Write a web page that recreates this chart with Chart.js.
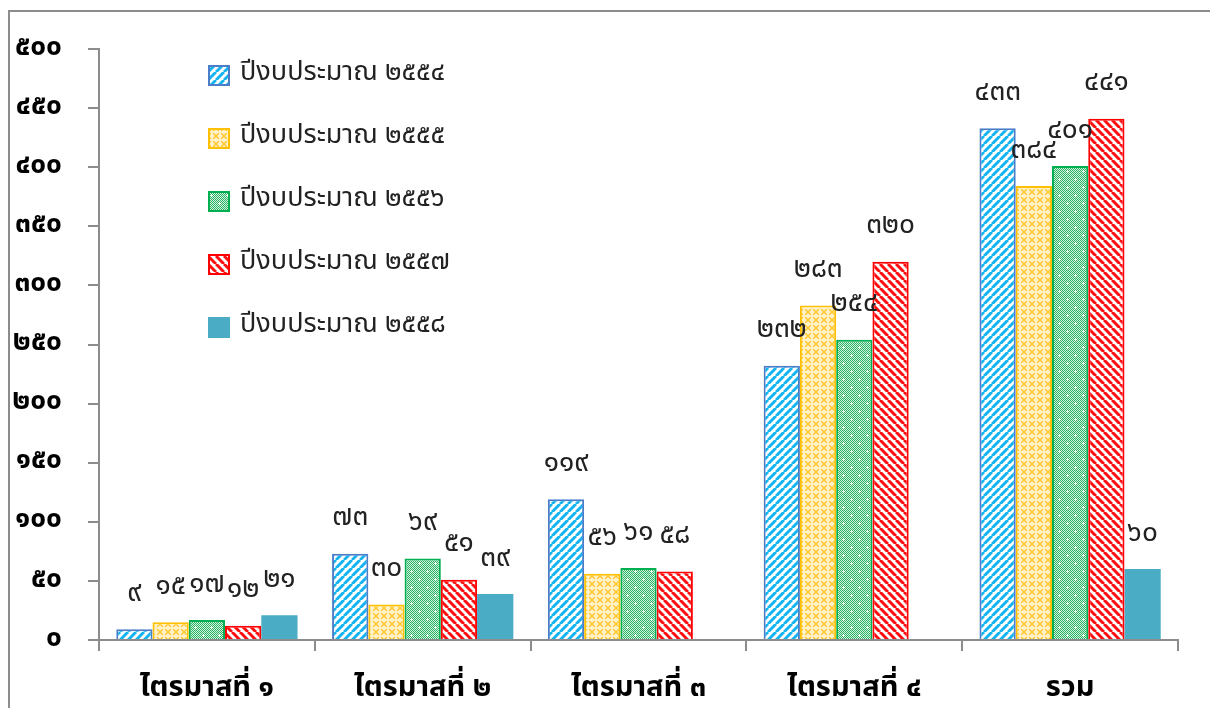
<!DOCTYPE html>
<html><head><meta charset="utf-8">
<script src="https://cdn.jsdelivr.net/npm/chart.js@4.4.0/dist/chart.umd.min.js"></script>
<style>html,body{margin:0;padding:0;background:#fff}canvas{display:block}</style>
</head><body><canvas id="c" width="1210" height="708"></canvas>
<script>
const categories = ['ไตรมาสที่ ๑', 'ไตรมาสที่ ๒', 'ไตรมาสที่ ๓', 'ไตรมาสที่ ๔', 'รวม'];
const seriesNames = ['ปีงบประมาณ ๒๕๕๔', 'ปีงบประมาณ ๒๕๕๕', 'ปีงบประมาณ ๒๕๕๖', 'ปีงบประมาณ ๒๕๕๗', 'ปีงบประมาณ ๒๕๕๘'];
const fy2554 = [9, 73, 119, 232, 433];
const fy2555 = [15, 30, 56, 283, 384];
const fy2556 = [17, 69, 61, 254, 401];
const fy2557 = [12, 51, 58, 320, 441];
const fy2558 = [21, 39, null, null, 60];
const yTickMin = 0, yTickMax = 500, yTickStep = 50;

const FONT = "'Noto Sans Thai', Tahoma, Loma, Garuda, 'Noto Sans', sans-serif";
const thaiDigits = ['๐','๑','๒','๓','๔','๕','๖','๗','๘','๙'];
const toThai = v => String(v).replace(/[0-9]/g, d => thaiDigits[+d]);

const mainCtx = document.getElementById('c').getContext('2d');
function makeTile(size, draw) {
  const c = document.createElement('canvas');
  c.width = c.height = size;
  const g = c.getContext('2d');
  draw(g, size);
  return mainCtx.createPattern(c, 'repeat');
}
function stripes(color, dir, size, lw) {
  return makeTile(size, (g, s) => {
    g.fillStyle = '#fff'; g.fillRect(0, 0, s, s);
    g.strokeStyle = color; g.lineWidth = lw;
    for (let k = -s; k <= s; k += s) {
      g.beginPath();
      if (dir > 0) { g.moveTo(k, s); g.lineTo(k + s, 0); }
      else { g.moveTo(k, 0); g.lineTo(k + s, s); }
      g.stroke();
    }
  });
}
const patBlue = stripes('#14B4F0', 1, 8, 3.0);
const patRed = stripes('#FF1010', -1, 8, 3.0);
const patYellow = makeTile(8, (g, s) => {
  g.fillStyle = '#FFF1C4'; g.fillRect(0, 0, s, s);
  g.strokeStyle = '#FFC82E'; g.lineWidth = 1.4;
  for (let k = -s; k <= s; k += s) {
    g.beginPath(); g.moveTo(k, s); g.lineTo(k + s, 0); g.stroke();
    g.beginPath(); g.moveTo(k, 0); g.lineTo(k + s, s); g.stroke();
  }
  g.fillStyle = '#fff';
  g.fillRect(3.5, 1.5, 1, 5); g.fillRect(1.5, 3.5, 5, 1);
});
const patGreen = makeTile(16, (g, s) => {
  for (let y = 0; y < s; y++) for (let x = 0; x < s; x++) {
    g.fillStyle = ((x + y) % 2 === 0) ? '#2DB466' : '#CFF0DC';
    g.fillRect(x, y, 1, 1);
  }
  g.fillStyle = '#fff';
  g.fillRect(3, 2, 1, 3); g.fillRect(2, 3, 3, 1);
  g.fillRect(11, 10, 1, 3); g.fillRect(10, 11, 3, 1);
});

const fills = [patBlue, patYellow, patGreen, patRed, '#4BACC6'];
const borders = ['#4A7EC8', '#FFC000', '#00B050', '#FF0000', '#4BACC6'];
const borderWidths = [2, 2, 2, 2, 0];
const seriesData = [fy2554, fy2555, fy2556, fy2557, fy2558];

const framePlugin = {
  id: 'frame',
  beforeDraw(chart) {
    const ctx = chart.ctx;
    ctx.save();
    ctx.fillStyle = '#fff';
    ctx.fillRect(0, 0, chart.width, chart.height);
    ctx.strokeStyle = '#8c8c8c'; ctx.lineWidth = 2;
    ctx.beginPath();
    ctx.moveTo(9, chart.height); ctx.lineTo(9, 11); ctx.lineTo(chart.width, 11);
    ctx.stroke();
    ctx.restore();
  }
};
const labelPlugin = {
  id: 'vlabels',
  afterDatasetsDraw(chart) {
    const ctx = chart.ctx;
    ctx.save();
    ctx.font = "28px " + FONT;
    ctx.fillStyle = '#222';
    ctx.textAlign = 'center';
    ctx.textBaseline = 'middle';
    chart.data.datasets.forEach((ds, i) => {
      const meta = chart.getDatasetMeta(i);
      meta.data.forEach((el, j) => {
        const v = ds.data[j];
        if (v === null || v === undefined) return;
        ctx.fillText(toThai(v), el.x, el.y - 34);
      });
    });
    ctx.restore();
  }
};
const legendPlugin = {
  id: 'clegend',
  afterDraw(chart) {
    const ctx = chart.ctx;
    ctx.save();
    ctx.font = "27px " + FONT;
    ctx.textBaseline = 'middle';
    ctx.textAlign = 'left';
    chart.data.datasets.forEach((ds, i) => {
      const cy = 75 + i * 63;
      ctx.fillStyle = ds.backgroundColor;
      ctx.fillRect(208, cy - 10, 22, 21);
      if (ds.borderWidth > 0) {
        ctx.strokeStyle = ds.borderColor; ctx.lineWidth = 2;
        ctx.strokeRect(209, cy - 9, 20, 19);
      }
      ctx.fillStyle = '#222';
      ctx.fillText(ds.label, 240, cy);
    });
    ctx.restore();
  }
};

new Chart(document.getElementById('c'), {
  type: 'bar',
  data: {
    labels: categories,
    datasets: seriesData.map((d, i) => ({
      label: seriesNames[i],
      data: d,
      backgroundColor: fills[i],
      borderColor: borders[i],
      borderWidth: borderWidths[i],
      categoryPercentage: 0.84,
      barPercentage: 1.0
    }))
  },
  options: {
    responsive: false,
    animation: false,
    devicePixelRatio: 1,
    layout: { padding: { left: 0, right: 32, top: 49, bottom: 0 } },
    plugins: { legend: { display: false }, tooltip: { enabled: false } },
    scales: {
      x: {
        grid: { display: true, drawOnChartArea: false, offset: true, tickLength: 11, color: '#8c8c8c', lineWidth: 2 },
        border: { display: true, color: '#8c8c8c', width: 2 },
        ticks: { color: '#000', font: { family: FONT, size: 29, weight: 'bold' }, padding: 22 },
        afterFit: s => { s.height = 68; }
      },
      y: {
        min: yTickMin, max: yTickMax,
        grid: { display: true, drawOnChartArea: false, tickLength: 11, color: '#8c8c8c', lineWidth: 2 },
        border: { display: true, color: '#8c8c8c', width: 2 },
        ticks: { stepSize: yTickStep, color: '#000', font: { family: FONT, size: 28, weight: 'bold' }, padding: 26, callback: v => toThai(v) },
        afterFit: s => { s.width = 99; }
      }
    }
  },
  plugins: [framePlugin, labelPlugin, legendPlugin]
});
</script></body></html>
